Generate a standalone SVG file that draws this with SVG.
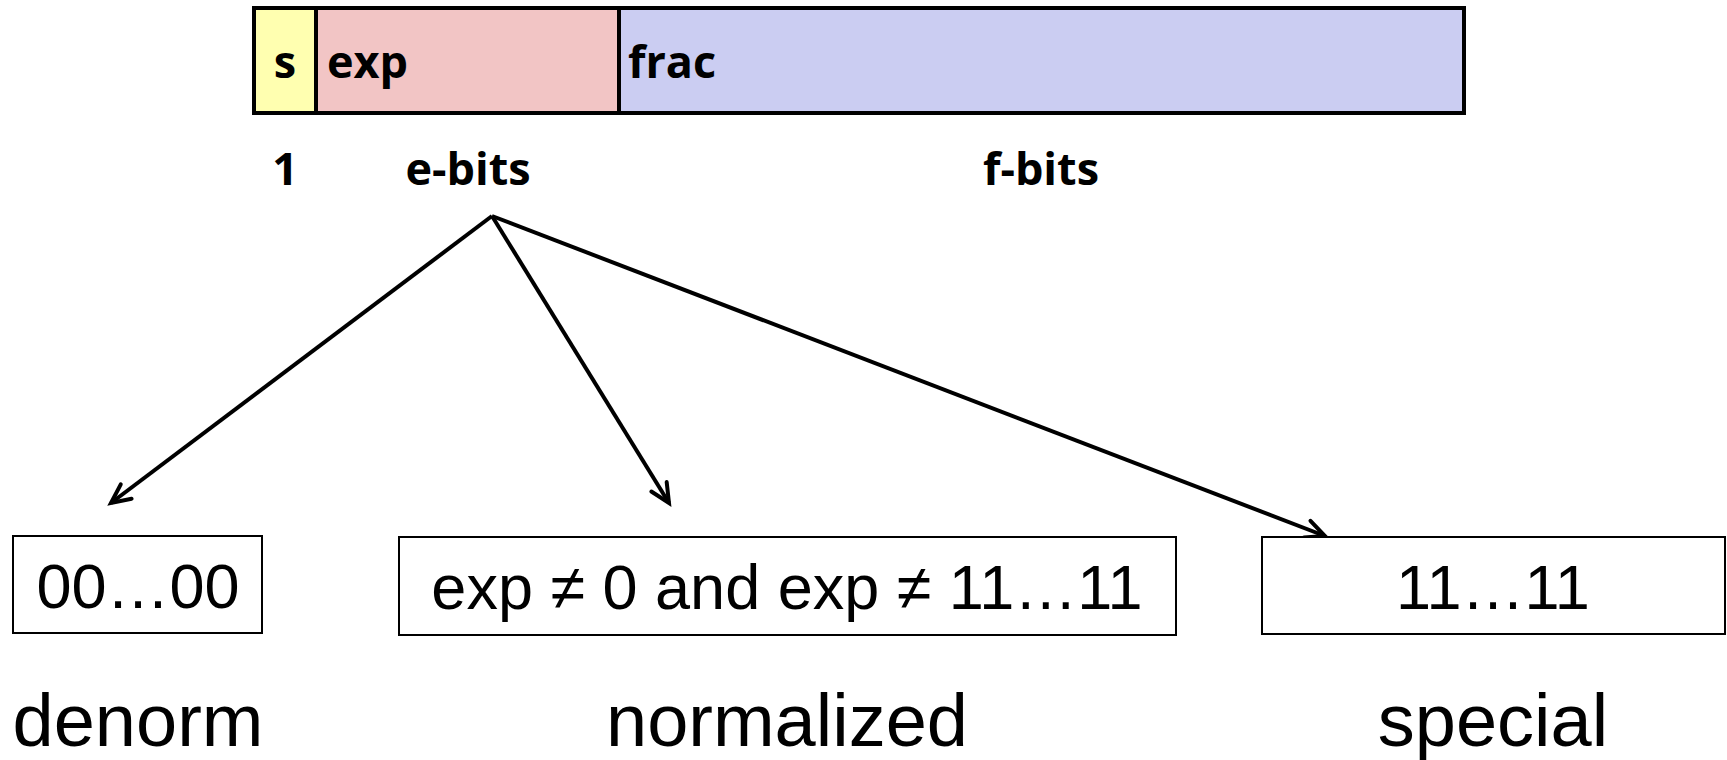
<svg xmlns="http://www.w3.org/2000/svg" width="1727" height="760" viewBox="0 0 1727 760">
<style>
.bold{font-family:"Open Sans","Liberation Sans",sans-serif;font-weight:700;font-size:45px;fill:#000}
.box{fill:#fff;stroke:#000;stroke-width:2}
.btxt{font-family:"Liberation Sans",Arial,sans-serif;font-size:63px;fill:#000;text-anchor:middle}
.lbl{font-family:"Liberation Sans",Arial,sans-serif;font-size:74px;fill:#000;text-anchor:middle}
.conn{stroke:#000;stroke-width:4;fill:none;marker-end:url(#arr)}
</style>
<defs>
<marker id="arr" markerUnits="userSpaceOnUse" viewBox="-22 -12 26 24" refX="0" refY="0" markerWidth="26" markerHeight="24" orient="auto" overflow="visible">
<path d="M-19,-9 L0,0 L-19,9" fill="none" stroke="#000" stroke-width="4" stroke-linecap="round" stroke-linejoin="miter"/>
</marker>
</defs>
<rect width="1727" height="760" fill="#fff"/>
<g id="field-s">
<rect x="254" y="8" width="62" height="105" fill="#FFFFB0"/>
<text class="bold" x="285" y="78" text-anchor="middle">s</text>
</g>
<g id="field-exp">
<rect x="316" y="8" width="303" height="105" fill="#F2C5C5"/>
<text class="bold" x="327" y="78">exp</text>
</g>
<g id="field-frac">
<rect x="619" y="8" width="845" height="105" fill="#CBCDF2"/>
<text class="bold" x="628" y="78">frac</text>
</g>
<g id="bar-outline" fill="none" stroke="#000" stroke-width="4">
<rect x="254" y="8" width="1210" height="105"/>
<line x1="316" y1="8" x2="316" y2="113"/>
<line x1="619" y1="8" x2="619" y2="113"/>
</g>
<g id="widths">
<text class="bold" x="285" y="185" text-anchor="middle">1</text>
<text class="bold" x="468" y="185" text-anchor="middle">e-bits</text>
<text class="bold" x="1041" y="185" text-anchor="middle">f-bits</text>
</g>
<g id="connectors">
<line class="conn" x1="492" y1="216" x2="111" y2="503"/>
<line class="conn" x1="492" y1="216" x2="669" y2="503"/>
<line class="conn" x1="492" y1="216" x2="1325" y2="536"/>
</g>
<g id="denorm">
<rect class="box" x="13" y="536" width="249" height="97"/>
<text class="btxt" x="138" y="608">00…00</text>
<text class="lbl" x="138" y="746">denorm</text>
</g>
<g id="normalized">
<rect class="box" x="399" y="537" width="777" height="98"/>
<text class="btxt" x="787" y="609">exp ≠ 0 and exp ≠ 11…11</text>
<text class="lbl" x="787" y="746">normalized</text>
</g>
<g id="special">
<rect class="box" x="1262" y="537" width="463" height="97"/>
<text class="btxt" x="1493" y="609">11…11</text>
<text class="lbl" x="1493" y="746">special</text>
</g>
</svg>
